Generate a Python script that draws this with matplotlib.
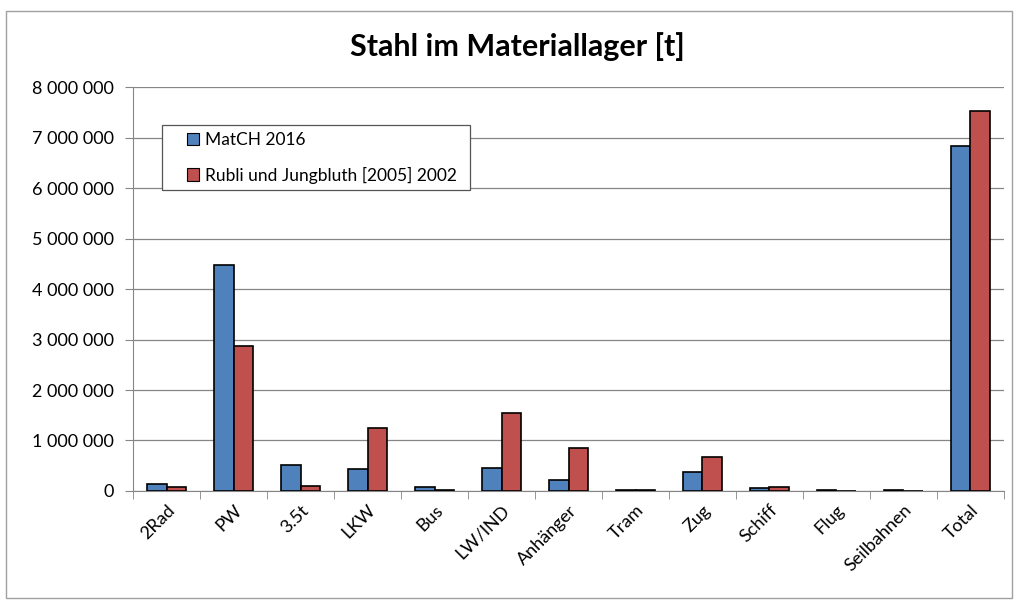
import numpy as np
import matplotlib.pyplot as plt
from matplotlib.patches import Rectangle
from matplotlib.ticker import FuncFormatter

plt.rcParams["font.family"] = ["Lato", "DejaVu Sans"]

categories = ["2Rad", "PW", "3.5t", "LKW", "Bus", "LW/IND", "Anhänger", "Tram",
              "Zug", "Schiff", "Flug", "Seilbahnen", "Total"]
match_2016 = [130000, 4480000, 520000, 440000, 70000, 460000, 210000, 10000,
              370000, 50000, 10000, 10000, 6830000]
rubli_2002 = [70000, 2880000, 100000, 1250000, 10000, 1550000, 850000, 10000,
              670000, 70000, 0, 0, 7520000]
series_names = ["MatCH 2016", "Rubli und Jungbluth [2005] 2002"]

BLUE = "#4F81BD"
RED = "#C0504D"
GRID = "#868686"


def thousands(v, pos):
    return f"{int(v):,}".replace(",", " ")


fig = plt.figure(figsize=(10.18, 6.02), dpi=100)
fig.patches.append(Rectangle((0.006, 0.006), 0.988, 0.975, transform=fig.transFigure,
                             fill=False, edgecolor="#a0a0a0", linewidth=1.0))
ax = fig.add_axes([0.131, 0.1844, 0.855, 0.671])

x = np.arange(len(categories))
w = 0.29
ax.bar(x - w / 2, match_2016, width=w, color=BLUE, edgecolor="black", linewidth=1.2,
       label=series_names[0], zorder=3)
ax.bar(x + w / 2, rubli_2002, width=w, color=RED, edgecolor="black", linewidth=1.2,
       label=series_names[1], zorder=3)

ax.set_xlim(-0.5, len(categories) - 0.5)
ax.set_ylim(0, 8000000)
ax.set_yticks(np.arange(0, 8000001, 1000000))
ax.yaxis.set_major_formatter(FuncFormatter(thousands))
ax.yaxis.grid(True, color=GRID, linewidth=0.9, zorder=0)

ax.set_xticks(x)
ax.set_xticklabels(categories, rotation=45, ha="right", rotation_mode="anchor", fontsize=13)
ax.tick_params(axis="x", length=0, pad=8)
ax.set_xticks(np.arange(-0.5, len(categories)), minor=True)
ax.tick_params(axis="x", which="minor", length=6, color=GRID)
ax.tick_params(axis="y", length=6, color=GRID, labelsize=13, pad=8)

for side in ["top", "right"]:
    ax.spines[side].set_visible(False)
ax.spines["left"].set_color(GRID)
ax.spines["bottom"].set_color(GRID)

fig.text(0.508, 0.922, "Stahl im Materiallager [t]", fontsize=22, fontweight="bold",
         ha="center", va="center")

# legend frame drawn separately so the entries can sit indented like the original
ax.add_patch(Rectangle((0.0333, 0.745), 0.354, 0.161, transform=ax.transAxes,
                       facecolor="white", edgecolor="#555555", linewidth=0.9,
                       zorder=4, clip_on=False))
leg = ax.legend(loc="upper left", bbox_to_anchor=(0.062, 0.888), fontsize=12.5,
                frameon=False, handlelength=0.7, handleheight=0.7, handletextpad=0.3,
                borderpad=0, labelspacing=1.05, borderaxespad=0)
leg.set_zorder(5)
for h in leg.legend_handles:
    h.set_linewidth(0.8)

fig.savefig("out.png", dpi=100)
